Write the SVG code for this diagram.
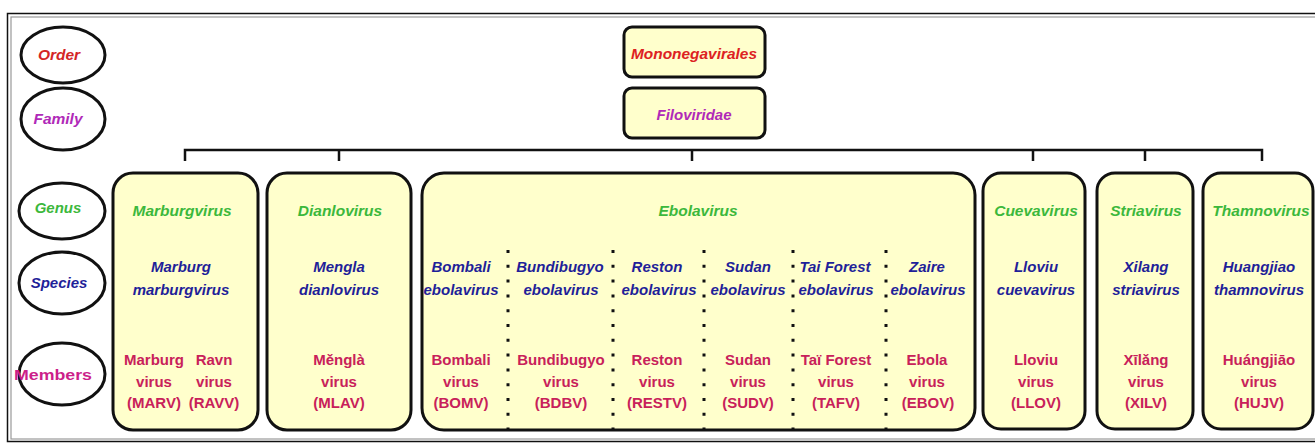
<svg xmlns="http://www.w3.org/2000/svg" width="1315" height="443" viewBox="0 0 1315 443">
<style>
text{font-family:"Liberation Sans",Arial,sans-serif;font-weight:bold;text-anchor:middle;font-size:15px}
.lab{fill:#fff;stroke:#111;stroke-width:3}
.box{fill:#ffffcc;stroke:#111;stroke-width:3}
.g{fill:#3cb83c;font-style:italic;font-size:15.5px}
.s{fill:#1f1f99;font-style:italic}
.m{fill:#c8215a}
.div{stroke:#111;stroke-width:3;stroke-dasharray:3 11.8;fill:none}
.con{stroke:#111;stroke-width:2.5;fill:none}
</style>
<rect x="7.5" y="13.5" width="1320" height="428" fill="#fff" stroke="#111" stroke-width="1.5"/>
<rect x="11" y="17" width="1320" height="422" fill="none" stroke="#999" stroke-width="1.2"/>

<g id="rank-order"><ellipse class="lab" cx="63" cy="55" rx="42" ry="28"/><text x="59" y="60" style="fill:#d42525;font-style:italic;font-size:15.5px">Order</text></g>
<g id="rank-family"><ellipse class="lab" cx="63" cy="119" rx="42" ry="31"/><text x="58" y="124" style="fill:#b02ab8;font-style:italic;font-size:15.5px">Family</text></g>
<g id="rank-genus"><ellipse class="lab" cx="62" cy="211" rx="43" ry="28"/><text x="58" y="213" style="fill:#3cb83c;font-style:italic">Genus</text></g>
<g id="rank-species"><ellipse class="lab" cx="62" cy="283" rx="43" ry="31"/><text x="59" y="288" style="fill:#1f1f99;font-style:italic">Species</text></g>
<g id="rank-members"><ellipse class="lab" cx="62" cy="374" rx="43" ry="31"/><text x="53" y="380" style="fill:#cc1f8a" textLength="78" lengthAdjust="spacingAndGlyphs">Members</text></g>

<g id="order"><rect class="box" x="624" y="27" width="141" height="50" rx="8"/><text x="694" y="59" style="fill:#dd2222;font-style:italic;font-size:15.5px" textLength="126" lengthAdjust="spacingAndGlyphs">Mononegavirales</text></g>
<g id="family"><rect class="box" x="624" y="88" width="141" height="50" rx="8"/><text x="694" y="120" style="fill:#b02ab8;font-style:italic">Filoviridae</text></g>

<g id="connectors">
<path class="con" d="M185,161 V150 H1262 V161 M339,150 V161 M692,150 V161 M1033,150 V161 M1145,150 V161"/>
</g>

<g id="marburgvirus">
<rect class="box" x="113" y="173" width="145" height="257" rx="20"/>
<text class="g" x="182" y="216">Marburgvirus</text>
<text class="s" x="181" y="272">Marburg</text><text class="s" x="181" y="295">marburgvirus</text>
<text class="m" x="154" y="365">Marburg</text><text class="m" x="154" y="387">virus</text><text class="m" x="154" y="408">(MARV)</text>
<text class="m" x="214" y="365">Ravn</text><text class="m" x="214" y="387">virus</text><text class="m" x="214" y="408">(RAVV)</text>
</g>

<g id="dianlovirus">
<rect class="box" x="267" y="173" width="144" height="257" rx="20"/>
<text class="g" x="340" y="216">Dianlovirus</text>
<text class="s" x="339" y="272">Mengla</text><text class="s" x="339" y="295">dianlovirus</text>
<text class="m" x="339" y="365">Měnglà</text><text class="m" x="339" y="387">virus</text><text class="m" x="339" y="408">(MLAV)</text>
</g>

<g id="ebolavirus">
<rect class="box" x="422" y="173" width="553" height="257" rx="22"/>
<text class="g" x="698" y="216">Ebolavirus</text>
<path class="div" d="M508,250 V430 M613,250 V430 M704,250 V430 M793,250 V430 M886,250 V430"/>
<text class="s" x="461" y="272">Bombali</text><text class="s" x="461" y="295">ebolavirus</text>
<text class="m" x="461" y="365">Bombali</text><text class="m" x="461" y="387">virus</text><text class="m" x="461" y="408">(BOMV)</text>
<text class="s" x="560" y="272">Bundibugyo</text><text class="s" x="561" y="295">ebolavirus</text>
<text class="m" x="561" y="365">Bundibugyo</text><text class="m" x="561" y="387">virus</text><text class="m" x="561" y="408">(BDBV)</text>
<text class="s" x="657" y="272">Reston</text><text class="s" x="659" y="295">ebolavirus</text>
<text class="m" x="657" y="365">Reston</text><text class="m" x="657" y="387">virus</text><text class="m" x="657" y="408">(RESTV)</text>
<text class="s" x="748" y="272">Sudan</text><text class="s" x="748" y="295">ebolavirus</text>
<text class="m" x="748" y="365">Sudan</text><text class="m" x="748" y="387">virus</text><text class="m" x="748" y="408">(SUDV)</text>
<text class="s" x="835" y="272">Tai Forest</text><text class="s" x="836" y="295">ebolavirus</text>
<text class="m" x="836" y="365">Taï Forest</text><text class="m" x="836" y="387">virus</text><text class="m" x="836" y="408">(TAFV)</text>
<text class="s" x="927" y="272">Zaire</text><text class="s" x="928" y="295">ebolavirus</text>
<text class="m" x="927" y="365">Ebola</text><text class="m" x="927" y="387">virus</text><text class="m" x="928" y="408">(EBOV)</text>
</g>

<g id="cuevavirus">
<rect class="box" x="983" y="173" width="102" height="256" rx="18"/>
<text class="g" x="1036" y="216">Cuevavirus</text>
<text class="s" x="1036" y="272">Lloviu</text><text class="s" x="1036" y="295">cuevavirus</text>
<text class="m" x="1036" y="365">Lloviu</text><text class="m" x="1036" y="387">virus</text><text class="m" x="1036" y="408">(LLOV)</text>
</g>

<g id="striavirus">
<rect class="box" x="1097" y="173" width="96" height="256" rx="18"/>
<text class="g" x="1146" y="216">Striavirus</text>
<text class="s" x="1146" y="272">Xilang</text><text class="s" x="1146" y="295">striavirus</text>
<text class="m" x="1146" y="365">Xīlǎng</text><text class="m" x="1146" y="387">virus</text><text class="m" x="1146" y="408">(XILV)</text>
</g>

<g id="thamnovirus">
<rect class="box" x="1203" y="173" width="110" height="256" rx="18"/>
<text class="g" x="1261" y="216">Thamnovirus</text>
<text class="s" x="1259" y="272">Huangjiao</text><text class="s" x="1259" y="295">thamnovirus</text>
<text class="m" x="1259" y="365">Huángjiāo</text><text class="m" x="1259" y="387">virus</text><text class="m" x="1259" y="408">(HUJV)</text>
</g>
</svg>
